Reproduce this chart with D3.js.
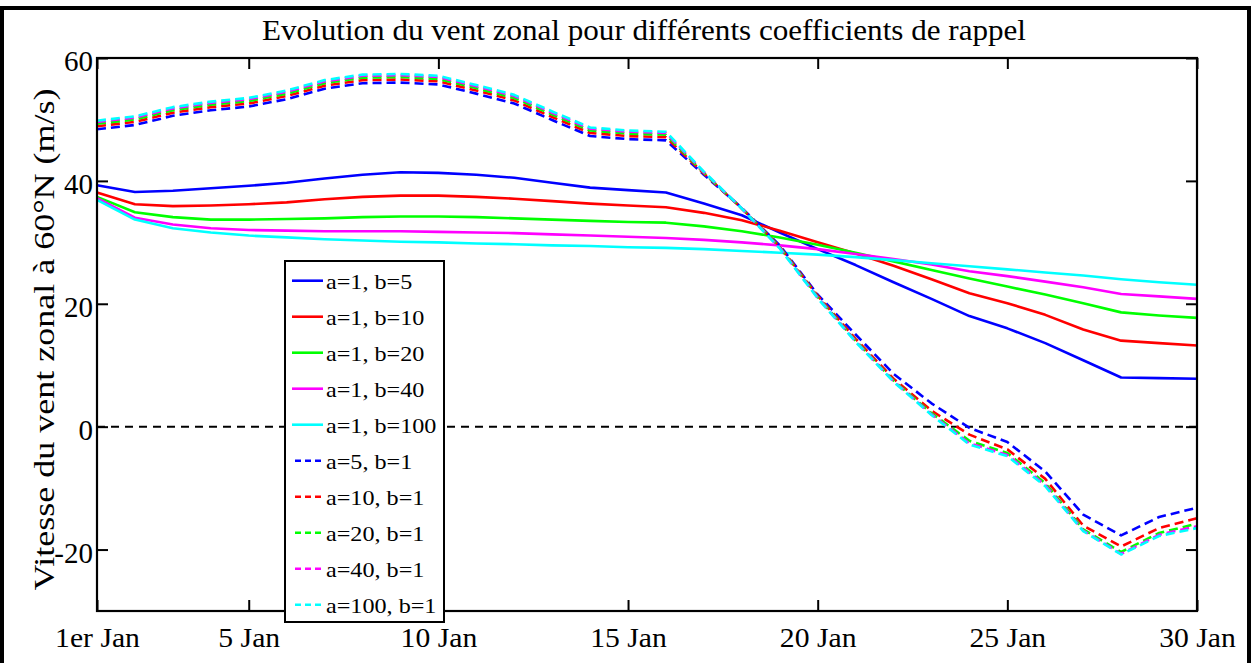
<!DOCTYPE html>
<html>
<head>
<meta charset="utf-8">
<script src="https://cdn.jsdelivr.net/npm/d3@7/dist/d3.min.js"></script>
<style>
  body { margin: 0; background: #fff; }
  svg { display: block; font-family: "Liberation Serif", "Times New Roman", serif; }
</style>
</head>
<body>
<svg id="chart" width="1251" height="663"></svg>
<script>
// ---------- data ----------
const days = [1,2,3,4,5,6,7,8,9,10,11,12,13,14,15,16,17,18,19,20,21,22,23,24,25,26,27,28,29,30];
const xTickDays = [1, 5, 10, 15, 20, 25, 30];
const xTickLabels = ["1er Jan", "5 Jan", "10 Jan", "15 Jan", "20 Jan", "25 Jan", "30 Jan"];
const yTicks = [-20, 0, 20, 40, 60];
const yTickLabels = ["-20", "0", "20", "40", "60"];

const seriesNames = ["a=1, b=5", "a=1, b=10", "a=1, b=20", "a=1, b=40", "a=1, b=100",
                     "a=5, b=1", "a=10, b=1", "a=20, b=1", "a=40, b=1", "a=100, b=1"];
const seriesColors = ["#0000ff", "#ff0000", "#00ff00", "#ff00ff", "#00ffff",
                      "#0000ff", "#ff0000", "#00ff00", "#ff00ff", "#00ffff"];
const seriesDashed = [false, false, false, false, false, true, true, true, true, true];

const a1b5   = [39.3,38.2,38.4,38.8,39.2,39.7,40.4,41.0,41.4,41.3,41.0,40.5,39.7,38.9,38.5,38.1,36.3,34.4,31.6,28.9,26.3,23.5,20.8,18.0,16.0,13.6,10.8,8.0,7.9,7.8];
const a1b10  = [38.1,36.2,35.9,36.0,36.2,36.5,37.0,37.4,37.6,37.6,37.4,37.1,36.7,36.3,36.0,35.7,34.8,33.6,31.9,30.0,28.2,26.2,24.0,21.7,20.1,18.2,15.8,14.0,13.6,13.2];
const a1b20  = [37.4,34.9,34.1,33.7,33.7,33.8,33.9,34.1,34.2,34.2,34.1,33.9,33.7,33.5,33.3,33.2,32.6,31.8,30.8,29.6,28.3,26.9,25.5,24.1,22.8,21.5,20.1,18.6,18.1,17.7];
const a1b40  = [37.2,34.0,32.9,32.3,32.0,31.9,31.8,31.8,31.8,31.7,31.6,31.5,31.3,31.1,30.9,30.7,30.4,30.0,29.5,28.9,28.1,27.3,26.4,25.3,24.5,23.6,22.7,21.6,21.2,20.8];
const a1b100 = [36.9,33.7,32.3,31.6,31.1,30.8,30.5,30.3,30.1,30.0,29.8,29.7,29.5,29.4,29.2,29.1,28.9,28.6,28.3,28.0,27.6,27.1,26.6,26.1,25.6,25.1,24.6,24.0,23.5,23.1];
const a5b1   = [48.4,49.1,50.6,51.5,52.1,53.3,55.0,55.9,56.0,55.7,54.2,52.6,49.9,47.3,46.8,46.6,41.0,35.6,29.5,21.5,15.0,8.6,3.8,-0.2,-2.5,-7.3,-14.3,-17.7,-14.7,-13.2];
const a10b1  = [48.9,49.6,51.1,52.0,52.6,53.8,55.5,56.4,56.5,56.2,54.7,53.1,50.4,47.8,47.3,47.1,41.2,35.5,29.3,21.3,14.3,7.8,2.6,-1.3,-3.7,-8.5,-16.1,-19.5,-16.5,-14.9];
const a20b1  = [49.3,50.0,51.5,52.4,53.0,54.2,55.9,56.8,56.9,56.6,55.1,53.5,50.8,48.2,47.7,47.5,41.3,35.5,29.2,21.1,14.0,7.5,2.2,-2.3,-4.3,-9.2,-16.7,-20.4,-17.3,-15.8];
const a40b1  = [49.6,50.3,51.8,52.7,53.3,54.5,56.2,57.1,57.2,56.9,55.4,53.8,51.1,48.5,48.0,47.8,41.4,35.5,29.1,21.0,13.9,7.4,2.0,-2.7,-4.6,-9.5,-16.9,-20.7,-17.6,-16.2];
const a100b1 = [49.8,50.5,52.0,52.9,53.5,54.7,56.4,57.3,57.4,57.1,55.6,54.0,51.3,48.7,48.2,48.0,41.5,35.5,29.0,20.9,13.8,7.3,1.9,-2.9,-4.8,-9.7,-17.0,-20.8,-17.8,-16.5];

const seriesValues = [a1b5, a1b10, a1b20, a1b40, a1b100, a5b1, a10b1, a20b1, a40b1, a100b1];

const titleText = "Evolution du vent zonal pour différents coefficients de rappel";
const yLabelText = "Vitesse du vent zonal à 60°N (m/s)";

// ---------- layout ----------
const svg = d3.select("#chart");
const FONT = "'Liberation Serif', 'Times New Roman', Times, serif";
const L = 97, R = 1197, T = 58, B = 611;

const x = d3.scaleLinear().domain([1, 30]).range([L, R]);
const y = d3.scaleLinear().domain([-30, 60]).range([B, T]);

// outer frame
svg.append("rect")
  .attr("x", 2).attr("y", 8).attr("width", 1247).attr("height", 720)
  .attr("fill", "none").attr("stroke", "#000").attr("stroke-width", 4);

// zero line
svg.append("line")
  .attr("x1", x(1)).attr("x2", x(30)).attr("y1", y(0)).attr("y2", y(0))
  .attr("stroke", "#000").attr("stroke-width", 2).attr("stroke-dasharray", "8,6");

// series
const line = d3.line().x((d, i) => x(days[i])).y(d => y(d));
seriesValues.forEach((vals, k) => {
  svg.append("path")
    .attr("d", line(vals))
    .attr("fill", "none")
    .attr("stroke", seriesColors[k])
    .attr("stroke-width", 2.6)
    .attr("stroke-linejoin", "round")
    .attr("stroke-dasharray", seriesDashed[k] ? "9,5" : null);
});

// axes (inward ticks)
const tickLen = 11;
const gB = svg.append("g").attr("transform", `translate(0,${B})`)
  .call(d3.axisBottom(x).tickValues(xTickDays)
    .tickFormat((d, i) => xTickLabels[i]).tickSizeInner(-tickLen).tickSizeOuter(0).tickPadding(16));
const gT = svg.append("g").attr("transform", `translate(0,${T})`)
  .call(d3.axisTop(x).tickValues(xTickDays).tickFormat("").tickSizeInner(-tickLen).tickSizeOuter(0));
const gL = svg.append("g").attr("transform", `translate(${L},0)`)
  .call(d3.axisLeft(y).tickValues(yTicks).tickFormat((d, i) => yTickLabels[i])
    .tickSizeInner(-tickLen).tickSizeOuter(0).tickPadding(4));
const gR = svg.append("g").attr("transform", `translate(${R},0)`)
  .call(d3.axisRight(y).tickValues(yTicks).tickFormat("").tickSizeInner(-tickLen).tickSizeOuter(0));

[gB, gT, gL, gR].forEach(g => {
  g.select(".domain").remove();
  g.selectAll(".tick line").attr("stroke", "#000").attr("stroke-width", 2);
  g.selectAll("text").attr("fill", "#000").attr("font-family", FONT);
});
gB.selectAll("text").attr("font-size", 28).attr("class", "sx106");
gL.selectAll("text").attr("font-size", 29).attr("dy", "0.44em");

// box
svg.append("rect")
  .attr("x", L).attr("y", T).attr("width", R - L).attr("height", B - T)
  .attr("fill", "none").attr("stroke", "#000").attr("stroke-width", 2.2);

// title
svg.append("text")
  .attr("id", "title")
  .attr("x", (262 + 1026) / 2).attr("y", 40)
  .attr("text-anchor", "middle").attr("font-size", 29).attr("fill", "#000")
  .attr("font-family", FONT)
  .text(titleText);

// y label
svg.append("text")
  .attr("id", "ylabel")
  .attr("transform", `translate(54,${(T + B) / 2 + 5}) rotate(-90)`)
  .attr("text-anchor", "middle").attr("font-size", 29).attr("fill", "#000")
  .attr("font-family", FONT)
  .text(yLabelText);

// legend
const lg = svg.append("g");
lg.append("rect")
  .attr("x", 285).attr("y", 261).attr("width", 159).attr("height", 361)
  .attr("fill", "#fff").attr("stroke", "#000").attr("stroke-width", 2);
seriesNames.forEach((name, k) => {
  const cy = 280.7 + k * 36.0;
  lg.append("line")
    .attr("x1", seriesDashed[k] ? 295 : 292).attr("x2", 323)
    .attr("y1", cy).attr("y2", cy)
    .attr("stroke", seriesColors[k]).attr("stroke-width", 2.6)
    .attr("stroke-dasharray", seriesDashed[k] ? "6,4" : null);
  lg.append("text")
    .attr("x", 326).attr("y", cy + 8)
    .attr("font-size", 21).attr("fill", "#000").attr("class", "sx115")
    .attr("font-family", FONT)
    .text(name);
});

// horizontal stretch to match the reference text proportions
function stretch(sel, f) {
  sel.each(function () {
    const w = this.getComputedTextLength();
    d3.select(this).attr("textLength", w * f).attr("lengthAdjust", "spacingAndGlyphs");
  });
}
stretch(svg.selectAll(".sx106"), 1.06);
stretch(svg.selectAll(".sx115"), 1.15);
d3.select("#title").attr("textLength", 764).attr("lengthAdjust", "spacingAndGlyphs");
d3.select("#ylabel").attr("textLength", 502).attr("lengthAdjust", "spacingAndGlyphs");
</script>
</body>
</html>
